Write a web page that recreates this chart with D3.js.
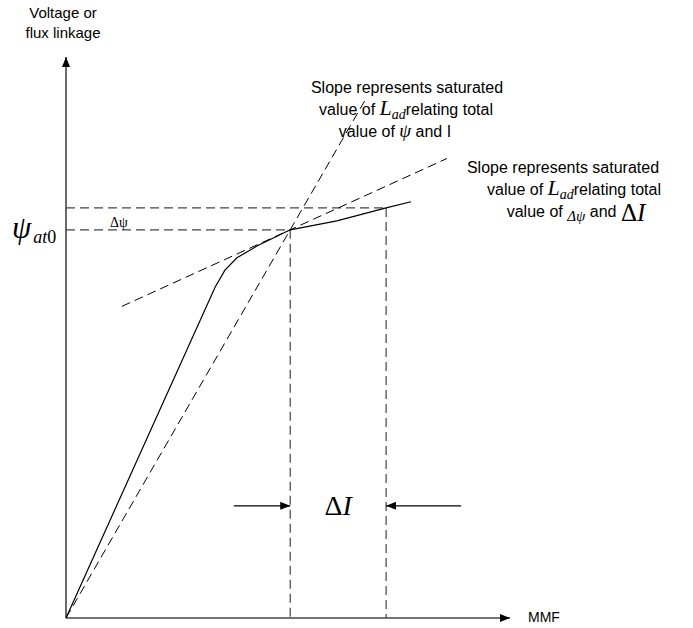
<!DOCTYPE html>
<html>
<head>
<meta charset="utf-8">
<script src="https://cdn.jsdelivr.net/npm/d3@7"></script>
<style>
  html, body { margin: 0; padding: 0; background: #fff; }
  svg { display: block; }
  .sans { font-family: Arial, "Liberation Sans", sans-serif; fill: #000; }
  .serif { font-family: "Times New Roman", "Liberation Serif", serif; fill: #000; }
</style>
</head>
<body>
<svg id="chart" width="693" height="628"></svg>
<script>
// Magnetisation (open-circuit) characteristic: MMF vs flux linkage
const mmf  = [0, 3.36, 3.58, 3.85, 4.30, 5.05, 6.10, 7.21, 7.77];
const flux = [0, 5.90, 6.20, 6.42, 6.63, 6.92, 7.08, 7.31, 7.42];

// Operating point and the incremented point
const opMMF = [5.05, 7.21];
const opFlux = [6.92, 7.31];

// Chord through the origin (total ψ / total I) and incremental tangent
const chordTopFlux = 9.25;
const tangentSpan = [1.26, 8.58];
const tangentSlope = 0.36;

// Position of the ΔI dimension arrows
const deltaArrowFlux = 2.0;
const deltaArrowOuter = [3.78, 8.9];

const axisMax = 10;

const svg = d3.select("#chart");
const x = d3.scaleLinear().domain([0, axisMax]).range([66, 510]);
const y = d3.scaleLinear().domain([0, axisMax]).range([618, 57]);

const defs = svg.append("defs");
defs.append("marker").attr("id", "head")
  .attr("viewBox", "0 0 10 10").attr("refX", 10).attr("refY", 5)
  .attr("markerWidth", 10).attr("markerHeight", 10)
  .attr("markerUnits", "userSpaceOnUse").attr("orient", "auto")
  .append("path").attr("d", "M0,1 L10,5 L0,9 Z").attr("fill", "#000");

const dash = "9,5";

// Axes with arrowheads
svg.append("line").attr("x1", x(0)).attr("y1", y(0)).attr("x2", x(axisMax)).attr("y2", y(0))
  .attr("stroke", "#444").attr("stroke-width", 1.6).attr("marker-end", "url(#head)");
svg.append("line").attr("x1", x(0)).attr("y1", y(0)).attr("x2", x(0)).attr("y2", y(axisMax))
  .attr("stroke", "#444").attr("stroke-width", 1.6).attr("marker-end", "url(#head)");

// Projection lines from the two points on the curve
opMMF.forEach((m, i) => {
  svg.append("line").attr("x1", x(0)).attr("y1", y(opFlux[i])).attr("x2", x(m)).attr("y2", y(opFlux[i]))
    .attr("stroke", "#444").attr("stroke-width", 1.2).attr("stroke-dasharray", dash);
  svg.append("line").attr("x1", x(m)).attr("y1", y(opFlux[i])).attr("x2", x(m)).attr("y2", y(0))
    .attr("stroke", "#444").attr("stroke-width", 1.2).attr("stroke-dasharray", dash);
});

// Chord from the origin through the operating point
const chordTopMMF = opMMF[0] * chordTopFlux / opFlux[0];
svg.append("line").attr("x1", x(0)).attr("y1", y(0)).attr("x2", x(chordTopMMF)).attr("y2", y(chordTopFlux))
  .attr("stroke", "#000").attr("stroke-width", 1).attr("stroke-dasharray", dash);

// Tangent at the operating point
const tan = m => opFlux[0] + tangentSlope * (m - opMMF[0]);
svg.append("line").attr("x1", x(tangentSpan[0])).attr("y1", y(tan(tangentSpan[0])))
  .attr("x2", x(tangentSpan[1])).attr("y2", y(tan(tangentSpan[1])))
  .attr("stroke", "#000").attr("stroke-width", 1).attr("stroke-dasharray", dash);

// Magnetisation curve
const pts = mmf.map((m, i) => [m, flux[i]]);
svg.append("path").datum(pts)
  .attr("d", d3.line().x(d => x(d[0])).y(d => y(d[1])))
  .attr("fill", "none").attr("stroke", "#000").attr("stroke-width", 1.2);

// ΔI dimension arrows
svg.append("line").attr("x1", x(deltaArrowOuter[0])).attr("y1", y(deltaArrowFlux))
  .attr("x2", x(opMMF[0])).attr("y2", y(deltaArrowFlux))
  .attr("stroke", "#000").attr("stroke-width", 1.2).attr("marker-end", "url(#head)");
svg.append("line").attr("x1", x(deltaArrowOuter[1])).attr("y1", y(deltaArrowFlux))
  .attr("x2", x(opMMF[1])).attr("y2", y(deltaArrowFlux))
  .attr("stroke", "#000").attr("stroke-width", 1.2).attr("marker-end", "url(#head)");

// ΔI label
const dI = svg.append("text").attr("class", "serif").attr("x", (x(opMMF[0]) + x(opMMF[1])) / 2)
  .attr("y", y(deltaArrowFlux) + 9).attr("text-anchor", "middle").attr("font-size", 28);
dI.append("tspan").text("Δ");
dI.append("tspan").attr("font-style", "italic").text("I");

// Axis titles
svg.append("text").attr("class", "sans").attr("x", 63).attr("y", 18)
  .attr("text-anchor", "middle").attr("font-size", 15).text("Voltage or");
svg.append("text").attr("class", "sans").attr("x", 63).attr("y", 38)
  .attr("text-anchor", "middle").attr("font-size", 15).text("flux linkage");
svg.append("text").attr("class", "sans").attr("x", 528).attr("y", 622)
  .attr("font-size", 14).text("MMF");

// ψat0 and Δψ on the flux axis
const psi = svg.append("text").attr("class", "serif").attr("x", 12).attr("y", y(opFlux[0]) + 8);
psi.append("tspan").attr("font-size", 31).attr("font-style", "italic").text("ψ");
psi.append("tspan").attr("font-size", 18).attr("font-style", "italic").attr("dy", 5).attr("dx", 2).text("at");
psi.append("tspan").attr("font-size", 18).text("0");

svg.append("text").attr("class", "serif").attr("x", 110).attr("y", y(opFlux[0]) - 3)
  .attr("font-size", 14).text("Δψ");

// Note for the chord
function addLad(t) {
  t.append("tspan").attr("class", "serif").attr("font-style", "italic").attr("font-size", 22).text("L");
  t.append("tspan").attr("class", "serif").attr("font-style", "italic").attr("font-size", 14)
    .attr("dy", 4).text("ad");
  t.append("tspan").attr("dy", -4).text("relating total");
}
const n1 = svg.append("g").attr("class", "sans").attr("font-size", 16);
n1.append("text").attr("class", "sans").attr("x", 407).attr("y", 93).attr("text-anchor", "middle")
  .text("Slope represents saturated");
addLad(n1.append("text").attr("class", "sans").attr("x", 406).attr("y", 115).attr("text-anchor", "middle")
  .text("value of "));
const l3 = n1.append("text").attr("class", "sans").attr("x", 395).attr("y", 137).attr("text-anchor", "middle");
l3.append("tspan").text("value of ");
l3.append("tspan").attr("class", "serif").attr("font-style", "italic").attr("font-size", 19).text("ψ");
l3.append("tspan").text(" and I");

// Note for the tangent
const n2 = svg.append("g").attr("class", "sans").attr("font-size", 16);
n2.append("text").attr("class", "sans").attr("x", 563).attr("y", 173).attr("text-anchor", "middle")
  .text("Slope represents saturated");
addLad(n2.append("text").attr("class", "sans").attr("x", 574).attr("y", 195).attr("text-anchor", "middle")
  .text("value of "));
const m3 = n2.append("text").attr("class", "sans").attr("x", 576).attr("y", 217).attr("text-anchor", "middle");
m3.append("tspan").text("value of ");
m3.append("tspan").attr("class", "serif").attr("font-style", "italic").attr("font-size", 15).attr("dy", 4).text("Δψ");
m3.append("tspan").attr("dy", -4).text(" and ");
m3.append("tspan").attr("class", "serif").attr("font-size", 25).attr("dy", 4).text("Δ");
m3.append("tspan").attr("class", "serif").attr("font-style", "italic").attr("font-size", 25).text("I");
</script>
</body>
</html>
